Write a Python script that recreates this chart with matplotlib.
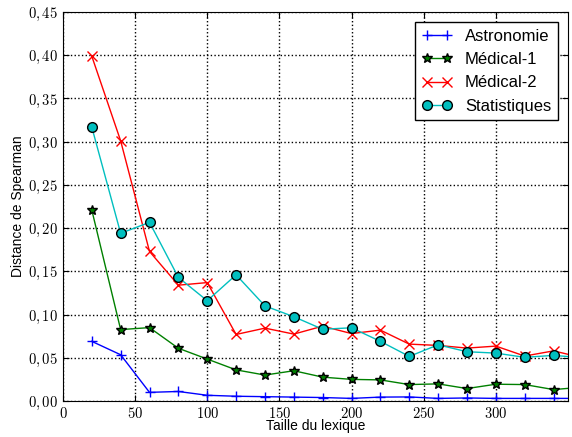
import matplotlib
matplotlib.use("Agg")
import matplotlib.pyplot as plt
from matplotlib.ticker import FuncFormatter, MultipleLocator, FixedLocator

# lexicon sizes
taille = [20, 40, 60, 80, 100, 120, 140, 160, 180, 200, 220, 240, 260, 280, 300, 320, 340, 360]

astronomie = [0.069, 0.0535, 0.010, 0.011, 0.0066, 0.0055, 0.005, 0.0045, 0.004, 0.003,
              0.0045, 0.0047, 0.003, 0.0035, 0.003, 0.003, 0.003, 0.003]
medical1 = [0.221, 0.0826, 0.0849, 0.061, 0.0485, 0.036, 0.030, 0.035, 0.0276, 0.025,
            0.0244, 0.019, 0.0198, 0.0144, 0.0194, 0.019, 0.0132, 0.016]
medical2 = [0.399, 0.301, 0.173, 0.134, 0.137, 0.077, 0.0843, 0.0774, 0.0866, 0.078,
            0.082, 0.0658, 0.0643, 0.0612, 0.0635, 0.052, 0.058, 0.050]
statistiques = [0.317, 0.194, 0.2067, 0.143, 0.116, 0.146, 0.110, 0.0975, 0.083, 0.0847,
                0.069, 0.0516, 0.065, 0.057, 0.0554, 0.0505, 0.0528, 0.050]

plt.rcParams['font.family'] = ['Liberation Sans', 'DejaVu Sans']
plt.rcParams['mathtext.fontset'] = 'cm'

fig = plt.figure(figsize=(5.72, 4.37), dpi=100)
ax = fig.add_axes([0.110, 0.0824, 0.883, 0.890])

ax.plot(taille, astronomie, color='b', marker='+', markersize=7, lw=1, label='Astronomie')
ax.plot(taille, medical1, color='g', marker='*', markersize=7, mec='k', lw=1, label='Médical-1')
ax.plot(taille, medical2, color='r', marker='x', markersize=7, mec='r', lw=1, label='Médical-2')
ax.plot(taille, statistiques, color='c', marker='o', markersize=7, mec='k', lw=1, label='Statistiques')

ax.set_xlim(0, 350)
ax.set_ylim(0, 0.45)
ax.xaxis.set_major_locator(FixedLocator([0, 50, 100, 150, 200, 250, 300]))
ax.yaxis.set_major_locator(MultipleLocator(0.05))
ax.yaxis.set_major_formatter(FuncFormatter(lambda v, p: r'$%s$' % ('%.2f' % v).replace('.', ',')))
ax.xaxis.set_major_formatter(FuncFormatter(lambda v, p: r'$%d$' % v))
ax.tick_params(direction='in', top=True, right=True, length=4, labelsize=10.5, colors='k')
ax.grid(True, linestyle=':', color='k', lw=1)

ax.set_xlabel('Taille du lexique', fontsize=10, labelpad=-1)
ax.set_ylabel('Distance de Spearman', fontsize=10, labelpad=2)

ax.legend(loc='upper right', fontsize=12, fancybox=False, framealpha=1,
          edgecolor='k', numpoints=2, handlelength=1.8, borderaxespad=0.6)

fig.savefig('out.png', dpi=100)
